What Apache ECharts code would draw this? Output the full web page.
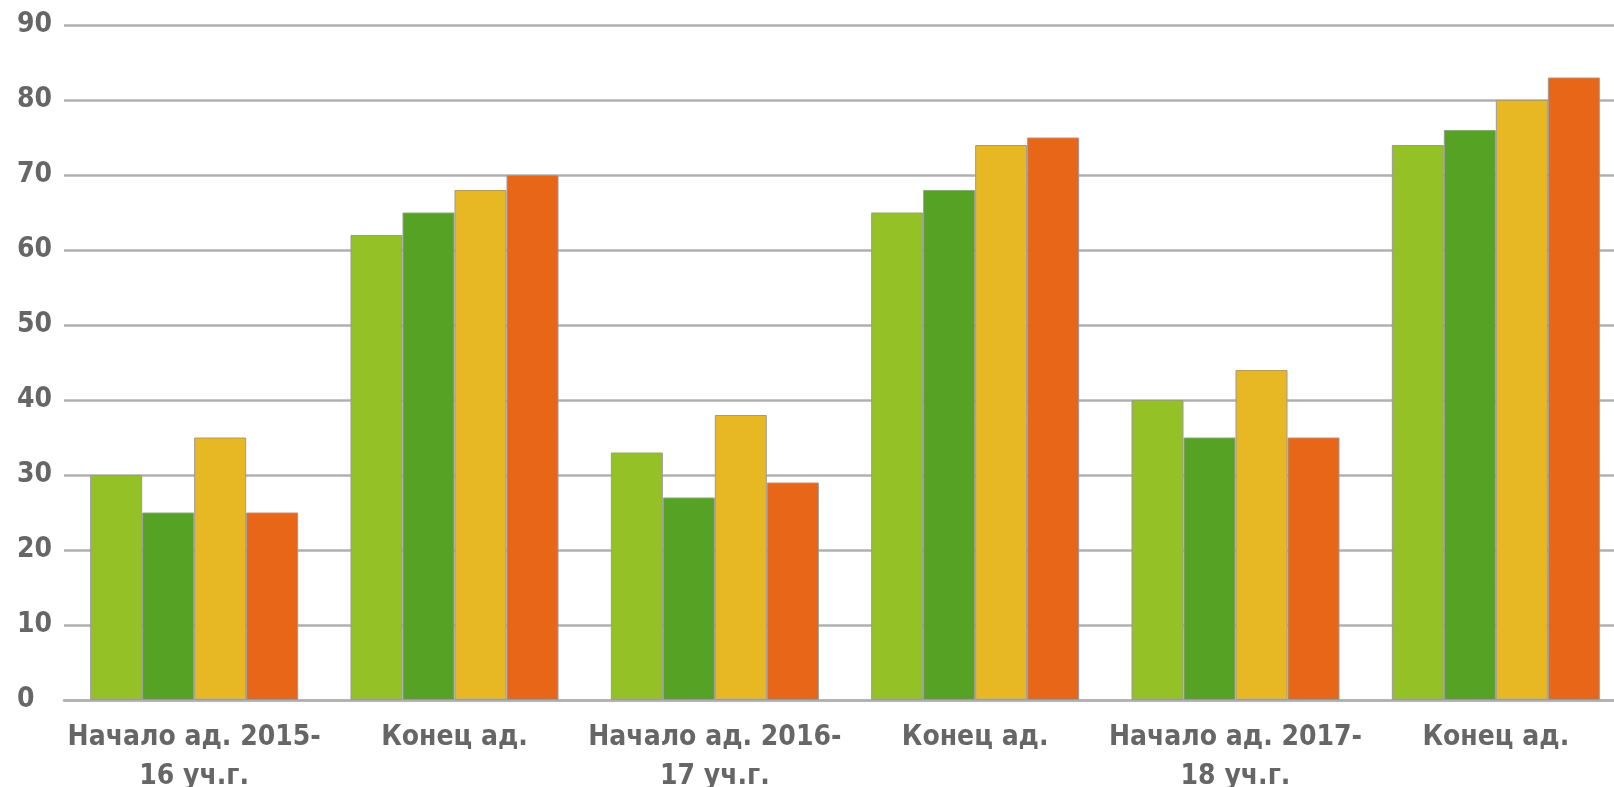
<!DOCTYPE html>
<html>
<head>
<meta charset="utf-8">
<script src="https://cdn.jsdelivr.net/npm/echarts@6/dist/echarts.min.js"></script>
<style>
html,body{margin:0;padding:0;background:#fff;}
#c{width:1614px;height:787px;}
</style>
</head>
<body>
<div id="c"></div>
<script>
const categories = ['Начало ад. 2015-\n16 уч.г.', 'Конец ад.', 'Начало ад. 2016-\n17 уч.г.', 'Конец ад.', 'Начало ад. 2017-\n18 уч.г.', 'Конец ад.'];
const series1 = [30, 62, 33, 65, 40, 74];
const series2 = [25, 65, 27, 68, 35, 76];
const series3 = [35, 68, 38, 74, 44, 80];
const series4 = [25, 70, 29, 75, 35, 83];
const colors = ['#94c125', '#55a224', '#e7b823', '#e86618'];

const chart = echarts.init(document.getElementById('c'));
const font = 'DejaVu Sans Condensed';
function bar(data, i) {
  return {
    type: 'bar', data: data, barWidth: 52, barGap: '0%',
    itemStyle: { color: colors[i], borderColor: '#9a9a9a', borderWidth: 1 },
    animation: false
  };
}
chart.setOption({
  animation: false,
  grid: { left: 64, right: -12, top: 25, bottom: 87, containLabel: false, outerBoundsMode: 'none' },
  xAxis: {
    type: 'category', data: categories,
    axisLine: { show: true, lineStyle: { color: '#b0b0b0', width: 2.5 } },
    axisTick: { show: false },
    axisLabel: { fontFamily: font, fontSize: 28, fontWeight: 'bold', color: '#666', lineHeight: 39, margin: 18, interval: 0 }
  },
  yAxis: {
    type: 'value', min: 0, max: 90, interval: 10,
    axisLine: { show: false }, axisTick: { show: false },
    axisLabel: { fontFamily: font, fontSize: 28, fontWeight: 'bold', color: '#666', align: 'left', margin: 47 },
    splitLine: { lineStyle: { color: '#b0b0b0', width: 2.5 } }
  },
  series: [bar(series1, 0), bar(series2, 1), bar(series3, 2), bar(series4, 3)]
});
</script>
</body>
</html>
